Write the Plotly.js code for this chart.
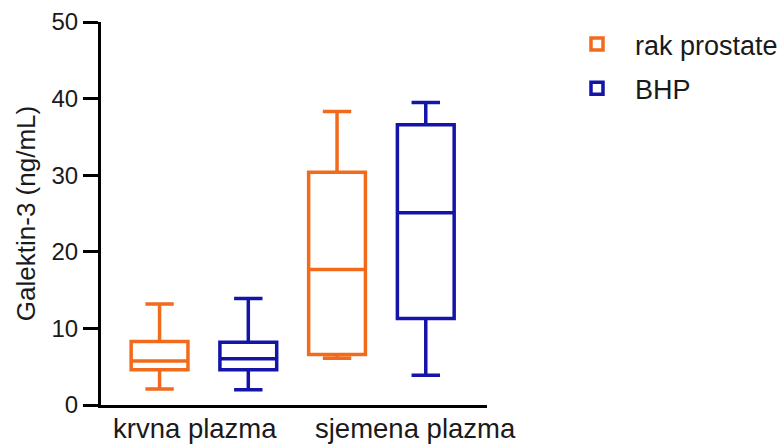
<!DOCTYPE html>
<html>
<head>
<meta charset="utf-8">
<script src="https://cdn.plot.ly/plotly-3.0.1.min.js"></script>
<style>html,body{margin:0;padding:0;background:#fff;}#chart{width:784px;height:444px;}</style>
</head>
<body>
<div id="chart"></div>
<script>
// Data
const categories = ["krvna plazma", "sjemena plazma"];
const seriesNames = ["rak prostate", "BHP"];

// rak prostate
const rakLower  = [2.1, 6.1];
const rakQ1     = [4.6, 6.6];
const rakMedian = [5.75, 17.7];
const rakQ3     = [8.3, 30.4];
const rakUpper  = [13.2, 38.3];

// BHP
const bhpLower  = [2.0, 3.9];
const bhpQ1     = [4.6, 11.3];
const bhpMedian = [6.05, 25.1];
const bhpQ3     = [8.2, 36.6];
const bhpUpper  = [13.9, 39.5];

const yTicks = [0, 10, 20, 30, 40, 50];
// horizontal nudges of the category labels, as in the reference
const labelShift = [-9, 34];

const orange = "#f26b1d";
const blue = "#1414a8";
const FONT = "Liberation Sans, Arial, sans-serif";
const TXT = "#1a1a1a";

function boxTrace(name, color, lo, q1, med, q3, hi, group) {
  return {
    type: "box",
    name: name,
    x: categories,
    lowerfence: lo,
    q1: q1,
    median: med,
    q3: q3,
    upperfence: hi,
    boxpoints: false,
    fillcolor: "rgba(255,255,255,0)",
    line: {color: color, width: 3.5},
    whiskerwidth: 0.5,
    legendgroup: group,
    hoverinfo: "skip"
  };
}

const data = [
  boxTrace(seriesNames[0], orange, rakLower, rakQ1, rakMedian, rakQ3, rakUpper, "g1"),
  boxTrace(seriesNames[1], blue, bhpLower, bhpQ1, bhpMedian, bhpQ3, bhpUpper, "g2")
];

const annotations = categories.map((c, i) => ({
  x: c, xref: "x",
  y: 0, yref: "paper",
  yanchor: "top", xanchor: "center",
  yshift: -6, xshift: labelShift[i],
  text: c,
  showarrow: false,
  font: {family: FONT, size: 27.5, color: TXT}
}));

const layout = {
  width: 784,
  height: 444,
  margin: {l: 101, r: 297, t: 22, b: 39, autoexpand: false},
  paper_bgcolor: "#fff",
  plot_bgcolor: "#fff",
  font: {family: FONT, size: 24, color: TXT},
  boxmode: "group",
  boxgap: 0,
  boxgroupgap: 0.36,
  showlegend: true,
  legend: {
    xref: "container", yref: "container",
    x: 0.713, xanchor: "left",
    y: 0.955, yanchor: "top",
    font: {family: FONT, size: 27, color: TXT},
    traceorder: "grouped",
    tracegroupgap: 6,
    itemwidth: 66,
    bgcolor: "rgba(0,0,0,0)"
  },
  annotations: annotations,
  xaxis: {
    type: "category",
    range: [-0.58, 1.595],
    showline: true,
    linecolor: "#000",
    linewidth: 3,
    ticks: "",
    showticklabels: false,
    showgrid: false,
    zeroline: false
  },
  yaxis: {
    range: [0, 50],
    tickvals: yTicks,
    ticktext: yTicks.map(String),
    showline: true,
    linecolor: "#000",
    linewidth: 3,
    ticks: "outside",
    ticklen: 15,
    tickwidth: 3,
    tickcolor: "#000",
    showgrid: false,
    zeroline: false,
    tickfont: {family: FONT, size: 24, color: TXT},
    title: {text: "Galektin-3 (ng/mL)", font: {family: FONT, size: 26, color: TXT}, standoff: 9}
  }
};

Plotly.newPlot("chart", data, layout, {staticPlot: true, displayModeBar: false});
</script>
</body>
</html>
